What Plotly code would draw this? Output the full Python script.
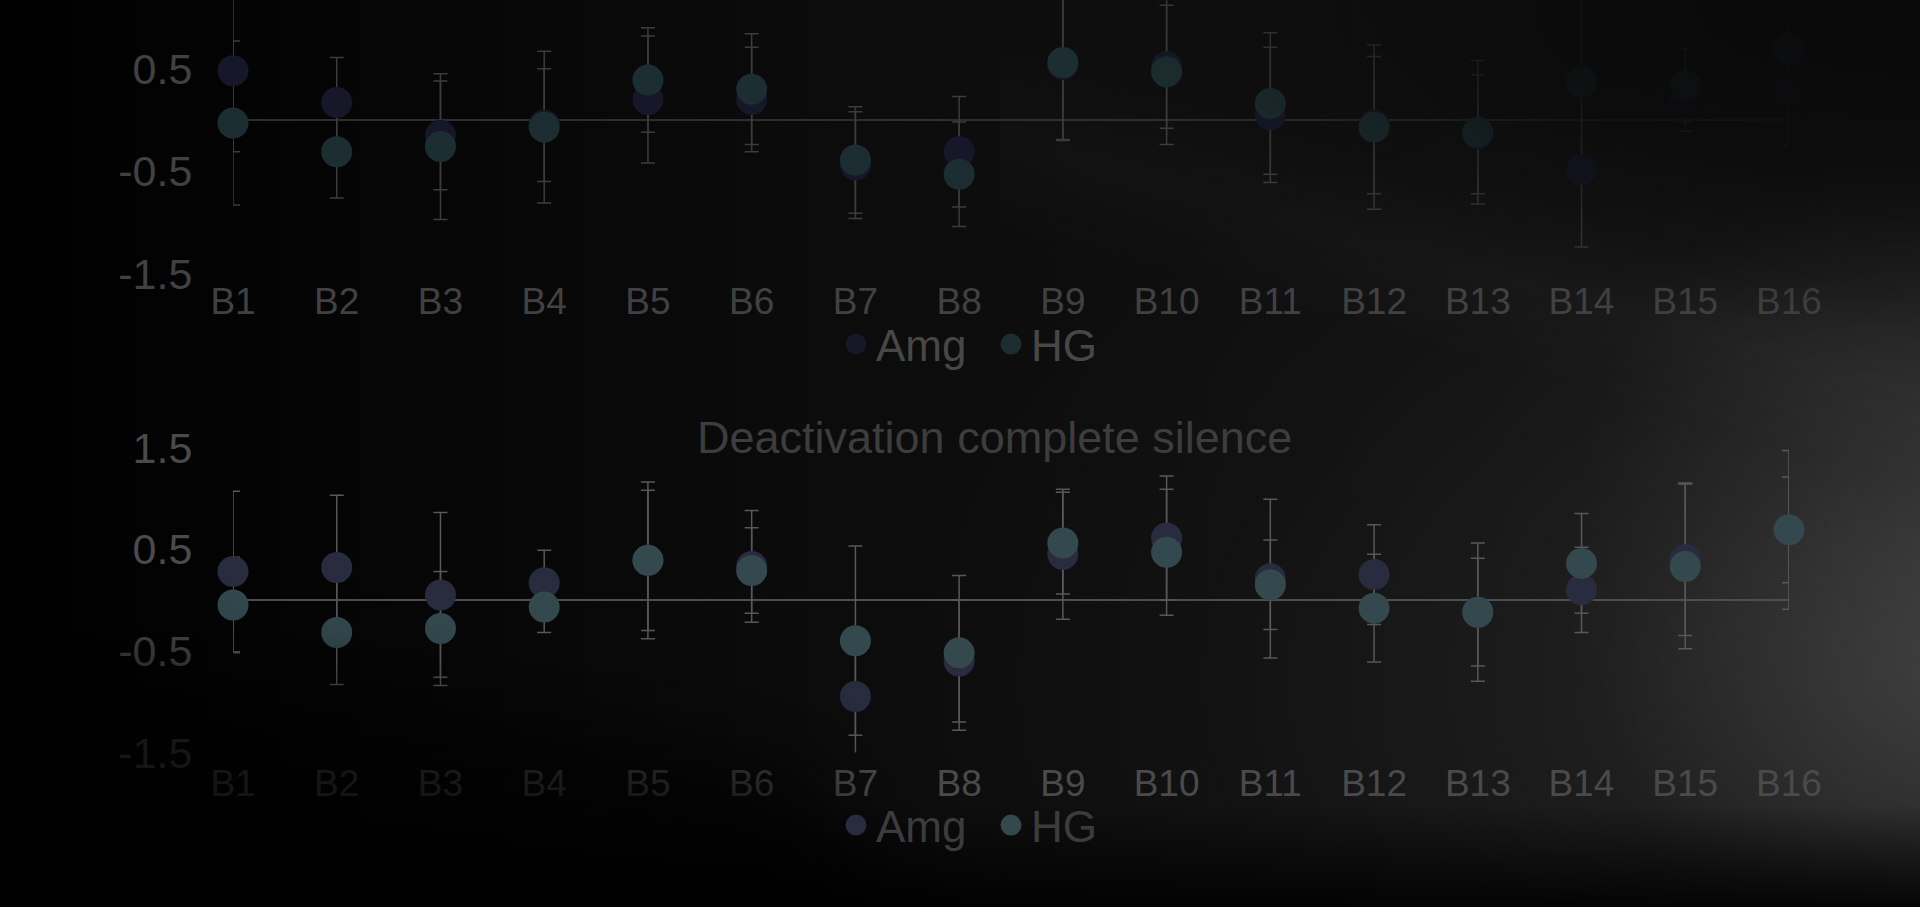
import base64
import plotly.graph_objects as go

# ---------------- data ----------------
categories = ["B1", "B2", "B3", "B4", "B5", "B6", "B7", "B8",
              "B9", "B10", "B11", "B12", "B13", "B14", "B15", "B16"]

# top chart (title cropped off)
top_amg = [0.48, 0.17, -0.15, -0.05, 0.20, 0.20, -0.44, -0.31,
           0.54, 0.52, 0.05, -0.05, -0.14, -0.48, 0.18, 0.30]
top_amg_err = [0.79, 0.44, 0.53, 0.55, 0.62, 0.51, 0.52, 0.54,
               0.73, 0.60, 0.66, 0.67, 0.58, 0.76, 0.29, 0.55]
top_hg = [-0.03, -0.31, -0.26, -0.07, 0.39, 0.30, -0.39, -0.53,
          0.56, 0.47, 0.16, -0.07, -0.12, 0.37, 0.34, 0.69]
top_hg_err = [0.80, 0.45, 0.71, 0.74, 0.51, 0.54, 0.52, 0.51,
              0.76, 0.71, 0.69, 0.80, 0.70, 0.99, 0.36, 0.45]

# bottom chart: "Deactivation complete silence"
bot_amg = [0.28, 0.32, 0.05, 0.17, 0.39, 0.33, -0.95, -0.60,
           0.45, 0.61, 0.21, 0.25, -0.12, 0.10, 0.40, 0.69]
bot_amg_err = [0.79, 0.71, 0.81, 0.32, 0.69, 0.55, 0.60, 0.60,
               0.64, 0.61, 0.78, 0.49, 0.53, 0.42, 0.75, 0.52]
bot_hg = [-0.05, -0.32, -0.28, -0.07, 0.39, 0.29, -0.40, -0.52,
          0.56, 0.47, 0.15, -0.08, -0.12, 0.36, 0.33, 0.69]
bot_hg_err = [0.47, 0.51, 0.56, 0.25, 0.77, 0.42, 0.93, 0.76,
              0.50, 0.62, 0.44, 0.53, 0.68, 0.49, 0.81, 0.78]

bottom_title = "Deactivation complete silence"
series_names = ["Amg", "HG"]
y_tickvals = [-1.5, -0.5, 0.5, 1.5]
y_ticktext = ["-1.5", "-0.5", "0.5", "1.5"]

FONT = "Liberation Sans, Arial, sans-serif"

# ---------------- background / lighting images ----------------
bg_svg = """<svg xmlns="http://www.w3.org/2000/svg" width="1920" height="907" viewBox="0 0 1920 907" preserveAspectRatio="none">
<defs>
<linearGradient id="h" x1="0" y1="0" x2="1920" y2="0" gradientUnits="userSpaceOnUse">
<stop offset="0" stop-color="#000"/><stop offset="0.06" stop-color="#020202"/>
<stop offset="0.45" stop-color="#0c0c0c"/><stop offset="1" stop-color="#131313"/>
</linearGradient>
<radialGradient id="r" cx="1980" cy="680" r="1100" gradientUnits="userSpaceOnUse"
 gradientTransform="translate(1980 680) scale(1 0.6) translate(-1980 -680)">
<stop offset="0" stop-color="#fff" stop-opacity="0.12"/>
<stop offset="0.35" stop-color="#fff" stop-opacity="0.055"/>
<stop offset="0.7" stop-color="#fff" stop-opacity="0.015"/>
<stop offset="1" stop-color="#fff" stop-opacity="0"/>
</radialGradient>
<radialGradient id="s" cx="1990" cy="570" r="430" gradientUnits="userSpaceOnUse"
 gradientTransform="translate(1990 570) scale(1 1.05) translate(-1990 -570)">
<stop offset="0" stop-color="#fff" stop-opacity="0.10"/>
<stop offset="0.55" stop-color="#fff" stop-opacity="0.045"/>
<stop offset="1" stop-color="#fff" stop-opacity="0"/>
</radialGradient>
<linearGradient id="d" x1="1500" y1="180" x2="1450" y2="360" gradientUnits="userSpaceOnUse">
<stop offset="0" stop-color="#fff" stop-opacity="0"/>
<stop offset="0.5" stop-color="#fff" stop-opacity="0.018"/>
<stop offset="1" stop-color="#fff" stop-opacity="0"/>
</linearGradient>
<linearGradient id="b" x1="0" y1="805" x2="0" y2="907" gradientUnits="userSpaceOnUse">
<stop offset="0" stop-color="#000" stop-opacity="0"/><stop offset="1" stop-color="#000" stop-opacity="0.85"/>
</linearGradient>
</defs>
<rect width="1920" height="907" fill="url(#h)"/>
<rect width="1920" height="907" fill="url(#r)"/>
<rect width="1920" height="907" fill="url(#s)"/>
<rect x="1000" width="920" height="907" fill="url(#d)"/>
<rect width="1920" height="907" fill="url(#b)"/>
</svg>"""

ov_svg = """<svg xmlns="http://www.w3.org/2000/svg" width="1920" height="907" viewBox="0 0 1920 907" preserveAspectRatio="none">
<defs>
<radialGradient id="t" cx="1920" cy="0" r="820" gradientUnits="userSpaceOnUse"
 gradientTransform="translate(1920 0) scale(1 0.40) translate(-1920 0)">
<stop offset="0" stop-color="#080808" stop-opacity="0.95"/>
<stop offset="0.5" stop-color="#0a0a0a" stop-opacity="0.8"/>
<stop offset="0.75" stop-color="#0b0b0b" stop-opacity="0.35"/>
<stop offset="1" stop-color="#0b0b0b" stop-opacity="0"/>
</radialGradient>
<filter id="f" x="-30%" y="-30%" width="160%" height="160%"><feGaussianBlur stdDeviation="45"/></filter>
</defs>
<rect width="1920" height="907" fill="url(#t)"/>
<polygon points="-150,615 800,765 1000,1050 -150,1050" fill="#000" fill-opacity="0.72" filter="url(#f)"/>
</svg>"""


def svg_uri(s):
    return "data:image/svg+xml;base64," + base64.b64encode(s.encode()).decode()


# ---------------- styles ----------------
top_style = dict(amg="#16182a", hg="#1c2e31", err="#3c3c3c", zero="#2e2e2e",
                 text="#414141", xlab_gap=2)
bot_style = dict(amg="#282c3e", hg="#33494e", err="#585858", zero="#4e4e4e",
                 text="#4a4a4a", xlab_gap=5)

fig = go.Figure()


def add_chart(xa, ya, legend, amg, amg_err, hg, hg_err, st):
    # error bars (clipped to the plot area, drawn beneath the markers)
    for vals, errs in ((amg, amg_err), (hg, hg_err)):
        fig.add_trace(go.Scatter(
            x=categories, y=vals, xaxis=xa, yaxis=ya, mode="markers",
            marker=dict(size=2, color="rgba(0,0,0,0)"),
            error_y=dict(type="data", array=errs, visible=True,
                         color=st["err"], thickness=1.5, width=7),
            showlegend=False, hoverinfo="skip", cliponaxis=True))
    # markers (not clipped at the category edges)
    for name, vals, col in ((series_names[0], amg, st["amg"]),
                            (series_names[1], hg, st["hg"])):
        fig.add_trace(go.Scatter(
            x=categories, y=vals, xaxis=xa, yaxis=ya, mode="markers",
            name=name, legend=legend,
            marker=dict(size=26, color=col, line=dict(color=col, width=5)),
            cliponaxis=False))


add_chart("x", "y", "legend", top_amg, top_amg_err, top_hg, top_hg_err, top_style)
add_chart("x2", "y2", "legend2", bot_amg, bot_amg_err, bot_hg, bot_hg_err, bot_style)

X_DOM = [233 / 1920, 1789 / 1920]


def xaxis(anchor, st):
    return dict(domain=X_DOM, anchor=anchor, type="category",
                categoryorder="array", categoryarray=categories,
                range=[0, 15], showgrid=False, zeroline=False, showline=False,
                ticks="", ticklen=0, ticklabelstandoff=st["xlab_gap"],
                tickfont=dict(family=FONT, size=37, color=st["text"]),
                automargin=False, fixedrange=True)


def yaxis(anchor, dom, rng, st):
    return dict(domain=dom, anchor=anchor, range=rng, showgrid=False,
                zeroline=True, zerolinecolor=st["zero"], zerolinewidth=1.5,
                showline=False, tickvals=y_tickvals, ticktext=y_ticktext,
                ticks="outside", ticklen=31, tickcolor="rgba(0,0,0,0)",
                tickfont=dict(family=FONT, size=43, color=st["text"]),
                automargin=False, fixedrange=True)


legend_common = dict(orientation="h", x=836 / 1920, xanchor="left",
                     yanchor="middle", bgcolor="rgba(0,0,0,0)",
                     entrywidth=110, entrywidthmode="pixels")

fig.update_layout(
    width=1920, height=907, autosize=False,
    margin=dict(l=0, r=0, t=0, b=0, pad=0, autoexpand=False),
    paper_bgcolor="#000", plot_bgcolor="rgba(0,0,0,0)",
    font=dict(family=FONT, color="#444"),
    xaxis=xaxis("y", top_style),
    yaxis=yaxis("x", [1 - 273.75 / 907, 1.0], [-1.5, 1.17], top_style),
    xaxis2=xaxis("y2", bot_style),
    yaxis2=yaxis("x2", [1 - 752.5 / 907, 1 - 447.5 / 907], [-1.5, 1.5], bot_style),
    legend=dict(legend_common, y=1 - 344.5 / 907,
                font=dict(family=FONT, size=44, color="#474747")),
    legend2=dict(legend_common, y=1 - 825.5 / 907,
                 font=dict(family=FONT, size=44, color="#3c3c3c")),
    annotations=[dict(text=bottom_title, xref="paper", yref="paper",
                      x=994 / 1920, y=1 - 437 / 907, xanchor="center",
                      yanchor="middle", showarrow=False,
                      font=dict(family=FONT, size=45, color="#3d3d3d"))],
    images=[
        dict(source=svg_uri(bg_svg), xref="paper", yref="paper", x=0, y=1,
             sizex=1, sizey=1, sizing="stretch", xanchor="left",
             yanchor="top", layer="below"),
        dict(source=svg_uri(ov_svg), xref="paper", yref="paper", x=0, y=1,
             sizex=1, sizey=1, sizing="stretch", xanchor="left",
             yanchor="top", layer="above"),
    ],
    showlegend=True,
    hovermode=False,
)

fig.write_html("out.html", config=dict(displayModeBar=False, staticPlot=True),
               post_script="document.body.style.margin='0';"
                           "document.body.style.overflow='hidden';")
